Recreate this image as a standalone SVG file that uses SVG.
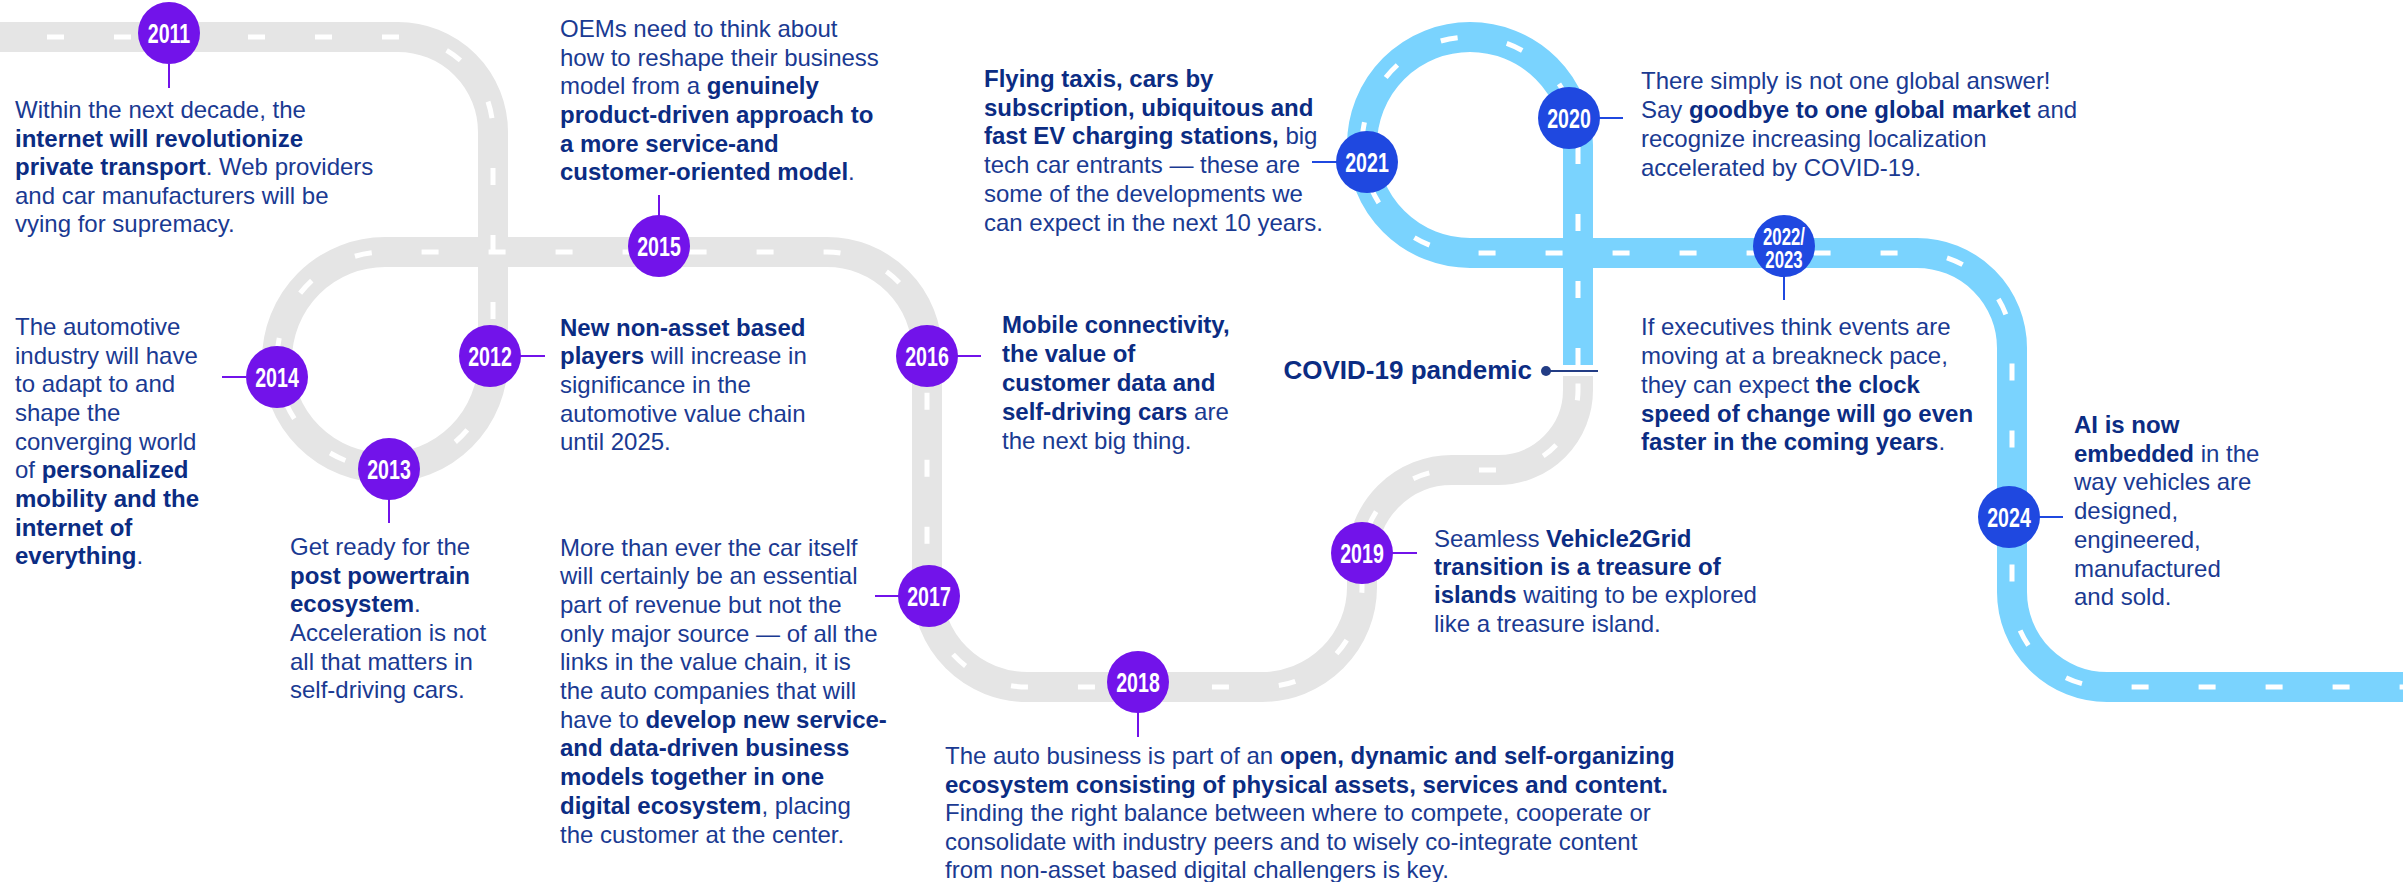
<svg xmlns="http://www.w3.org/2000/svg" width="2403" height="882" viewBox="0 0 2403 882">
<style>
.road{fill:none;stroke:#E5E5E5;stroke-width:30}
.road.blue{stroke:#7AD3FE}
.dash{fill:none;stroke:#fff;stroke-width:5;stroke-dasharray:17 50}
.p{fill:#7213EA}
.b{fill:#1F48E0}
.yr{font-family:"Liberation Sans",Arial,sans-serif;font-weight:700;font-size:28px;fill:#fff;text-anchor:middle}
.yr2{font-size:24px}
.t{font-family:"Liberation Sans",Arial,sans-serif;font-size:24px;fill:#1A3A92}
.bd{font-weight:700;fill:#0B2C83}
.cp{stroke:#7213EA;stroke-width:2;fill:none}
.cb{stroke:#1F48E0;stroke-width:2;fill:none}
.cn{stroke:#233D85;stroke-width:2;fill:none}
</style>
<g id="road">
<path id="greyroad" class="road" d="M -20 37 H 398 A 95 95 0 0 1 493 132 V 360 A 108 108 0 1 1 385 252 H 827 A 100 100 0 0 1 927 352 V 587 A 100 100 0 0 0 1027 687 H 1262 A 100 100 0 0 0 1362 587 V 560 A 90 90 0 0 1 1452 470 H 1498 A 80 80 0 0 0 1578 390 V 376"/>
<path class="dash" d="M -20 37 H 398 A 95 95 0 0 1 493 132 V 360 A 108 108 0 1 1 385 252 H 827 A 100 100 0 0 1 927 352 V 587 A 100 100 0 0 0 1027 687 H 1262 A 100 100 0 0 0 1362 587 V 560 A 90 90 0 0 1 1452 470 H 1498 A 80 80 0 0 0 1578 390 V 376"/>
<path id="blueroad" class="road blue" d="M 1578 365 V 145 A 108 108 0 1 0 1470 253 H 1917 A 95 95 0 0 1 2012 348 V 592 A 95 95 0 0 0 2107 687 H 2430"/>
<path class="dash" d="M 1578 365 V 145 A 108 108 0 1 0 1470 253 H 1917 A 95 95 0 0 1 2012 348 V 592 A 95 95 0 0 0 2107 687 H 2430"/>
</g>
<g id="connectors">
<line class="cp" x1="169" y1="64" x2="169" y2="88"/>
<line class="cp" x1="222" y1="377" x2="246" y2="377"/>
<line class="cp" x1="520" y1="356" x2="545" y2="356"/>
<line class="cp" x1="389" y1="499" x2="389" y2="523"/>
<line class="cp" x1="659" y1="195" x2="659" y2="216"/>
<line class="cp" x1="957" y1="356" x2="981" y2="356"/>
<line class="cp" x1="875" y1="596" x2="899" y2="596"/>
<line class="cp" x1="1138" y1="712" x2="1138" y2="737"/>
<line class="cp" x1="1392" y1="553" x2="1417" y2="553"/>
<line class="cb" x1="1312" y1="162" x2="1337" y2="162"/>
<line class="cb" x1="1599" y1="118" x2="1623" y2="118"/>
<line class="cb" x1="1784" y1="276" x2="1784" y2="300"/>
<line class="cb" x1="2039" y1="517" x2="2063" y2="517"/>
<line class="cn" x1="1546" y1="371" x2="1598" y2="371"/>
</g>
<g id="n2011">
<circle class="p" cx="169" cy="33" r="31"/>
<text class="yr" transform="translate(169,43) scale(0.7,1)">2011</text>
<text class="t"><tspan x="15" y="118">Within the next decade, the</tspan><tspan x="15" y="147" class="bd">internet will revolutionize</tspan><tspan x="15" y="175"><tspan class="bd">private transport</tspan>. Web providers</tspan><tspan x="15" y="204">and car manufacturers will be</tspan><tspan x="15" y="232">vying for supremacy.</tspan></text>
</g>
<g id="n2014">
<circle class="p" cx="277" cy="377" r="31"/>
<text class="yr" transform="translate(277,387) scale(0.7,1)">2014</text>
<text class="t"><tspan x="15" y="335">The automotive</tspan><tspan x="15" y="364">industry will have</tspan><tspan x="15" y="392">to adapt to and</tspan><tspan x="15" y="421">shape the</tspan><tspan x="15" y="450">converging world</tspan><tspan x="15" y="478">of <tspan class="bd">personalized</tspan></tspan><tspan x="15" y="507" class="bd">mobility and the</tspan><tspan x="15" y="536" class="bd">internet of</tspan><tspan x="15" y="564"><tspan class="bd">everything</tspan>.</tspan></text>
</g>
<g id="n2012">
<circle class="p" cx="490" cy="356" r="31"/>
<text class="yr" transform="translate(490,366) scale(0.7,1)">2012</text>
<text class="t"><tspan x="560" y="336" class="bd">New non-asset based</tspan><tspan x="560" y="364"><tspan class="bd">players</tspan> will increase in</tspan><tspan x="560" y="393">significance in the</tspan><tspan x="560" y="422">automotive value chain</tspan><tspan x="560" y="450">until 2025.</tspan></text>
</g>
<g id="n2013">
<circle class="p" cx="389" cy="469" r="31"/>
<text class="yr" transform="translate(389,479) scale(0.7,1)">2013</text>
<text class="t"><tspan x="290" y="555">Get ready for the</tspan><tspan x="290" y="584" class="bd">post powertrain</tspan><tspan x="290" y="612"><tspan class="bd">ecosystem</tspan>.</tspan><tspan x="290" y="641">Acceleration is not</tspan><tspan x="290" y="670">all that matters in</tspan><tspan x="290" y="698">self-driving cars.</tspan></text>
</g>
<g id="n2015">
<circle class="p" cx="659" cy="246" r="31"/>
<text class="yr" transform="translate(659,256) scale(0.7,1)">2015</text>
<text class="t"><tspan x="560" y="37">OEMs need to think about</tspan><tspan x="560" y="66">how to reshape their business</tspan><tspan x="560" y="94">model from a <tspan class="bd">genuinely</tspan></tspan><tspan x="560" y="123" class="bd">product-driven approach to</tspan><tspan x="560" y="152" class="bd">a more service-and</tspan><tspan x="560" y="180"><tspan class="bd">customer-oriented model</tspan>.</tspan></text>
</g>
<g id="n2016">
<circle class="p" cx="927" cy="356" r="31"/>
<text class="yr" transform="translate(927,366) scale(0.7,1)">2016</text>
<text class="t"><tspan x="1002" y="333" class="bd">Mobile connectivity,</tspan><tspan x="1002" y="362" class="bd">the value of</tspan><tspan x="1002" y="391" class="bd">customer data and</tspan><tspan x="1002" y="420"><tspan class="bd">self-driving cars</tspan> are</tspan><tspan x="1002" y="449">the next big thing.</tspan></text>
</g>
<g id="n2017">
<circle class="p" cx="929" cy="596" r="31"/>
<text class="yr" transform="translate(929,606) scale(0.7,1)">2017</text>
<text class="t"><tspan x="560" y="556">More than ever the car itself</tspan><tspan x="560" y="584">will certainly be an essential</tspan><tspan x="560" y="613">part of revenue but not the</tspan><tspan x="560" y="642">only major source — of all the</tspan><tspan x="560" y="670">links in the value chain, it is</tspan><tspan x="560" y="699">the auto companies that will</tspan><tspan x="560" y="728">have to <tspan class="bd">develop new service-</tspan></tspan><tspan x="560" y="756" class="bd">and data-driven business</tspan><tspan x="560" y="785" class="bd">models together in one</tspan><tspan x="560" y="814"><tspan class="bd">digital ecosystem</tspan>, placing</tspan><tspan x="560" y="843">the customer at the center.</tspan></text>
</g>
<g id="n2018">
<circle class="p" cx="1138" cy="682" r="31"/>
<text class="yr" transform="translate(1138,692) scale(0.7,1)">2018</text>
<text class="t"><tspan x="945" y="764">The auto business is part of an <tspan class="bd">open, dynamic and self-organizing</tspan></tspan><tspan x="945" y="793" class="bd">ecosystem consisting of physical assets, services and content.</tspan><tspan x="945" y="821">Finding the right balance between where to compete, cooperate or</tspan><tspan x="945" y="850">consolidate with industry peers and to wisely co-integrate content</tspan><tspan x="945" y="878">from non-asset based digital challengers is key.</tspan></text>
</g>
<g id="n2019">
<circle class="p" cx="1362" cy="553" r="31"/>
<text class="yr" transform="translate(1362,563) scale(0.7,1)">2019</text>
<text class="t"><tspan x="1434" y="547">Seamless <tspan class="bd">Vehicle2Grid</tspan></tspan><tspan x="1434" y="575" class="bd">transition is a treasure of</tspan><tspan x="1434" y="603"><tspan class="bd">islands</tspan> waiting to be explored</tspan><tspan x="1434" y="632">like a treasure island.</tspan></text>
</g>
<g id="covid">
<circle cx="1546" cy="371" r="5" fill="#233D85"/>
<text class="t bd" x="1532" y="379" text-anchor="end" style="font-size:26px">COVID-19 pandemic</text>
</g>
<g id="n2021">
<circle class="b" cx="1367" cy="162" r="31"/>
<text class="yr" transform="translate(1367,172) scale(0.7,1)">2021</text>
<text class="t"><tspan x="984" y="87" class="bd">Flying taxis, cars by</tspan><tspan x="984" y="116" class="bd">subscription, ubiquitous and</tspan><tspan x="984" y="144"><tspan class="bd">fast EV charging stations,</tspan> big</tspan><tspan x="984" y="173">tech car entrants — these are</tspan><tspan x="984" y="202">some of the developments we</tspan><tspan x="984" y="231">can expect in the next 10 years.</tspan></text>
</g>
<g id="n2020">
<circle class="b" cx="1569" cy="118" r="31"/>
<text class="yr" transform="translate(1569,128) scale(0.7,1)">2020</text>
<text class="t"><tspan x="1641" y="89">There simply is not one global answer!</tspan><tspan x="1641" y="118">Say <tspan class="bd">goodbye to one global market</tspan> and</tspan><tspan x="1641" y="147">recognize increasing localization</tspan><tspan x="1641" y="176">accelerated by COVID-19.</tspan></text>
</g>
<g id="n2022">
<circle class="b" cx="1784" cy="246" r="31"/>
<text class="yr yr2" transform="translate(1784,245) scale(0.7,1)">2022/</text>
<text class="yr yr2" transform="translate(1784,268) scale(0.7,1)">2023</text>
<text class="t"><tspan x="1641" y="335">If executives think events are</tspan><tspan x="1641" y="364">moving at a breakneck pace,</tspan><tspan x="1641" y="393">they can expect <tspan class="bd">the clock</tspan></tspan><tspan x="1641" y="422" class="bd">speed of change will go even</tspan><tspan x="1641" y="450"><tspan class="bd">faster in the coming years</tspan>.</tspan></text>
</g>
<g id="n2024">
<circle class="b" cx="2009" cy="517" r="31"/>
<text class="yr" transform="translate(2009,527) scale(0.7,1)">2024</text>
<text class="t"><tspan x="2074" y="433" class="bd">AI is now</tspan><tspan x="2074" y="462"><tspan class="bd">embedded</tspan> in the</tspan><tspan x="2074" y="490">way vehicles are</tspan><tspan x="2074" y="519">designed,</tspan><tspan x="2074" y="548">engineered,</tspan><tspan x="2074" y="577">manufactured</tspan><tspan x="2074" y="605">and sold.</tspan></text>
</g>
</svg>
